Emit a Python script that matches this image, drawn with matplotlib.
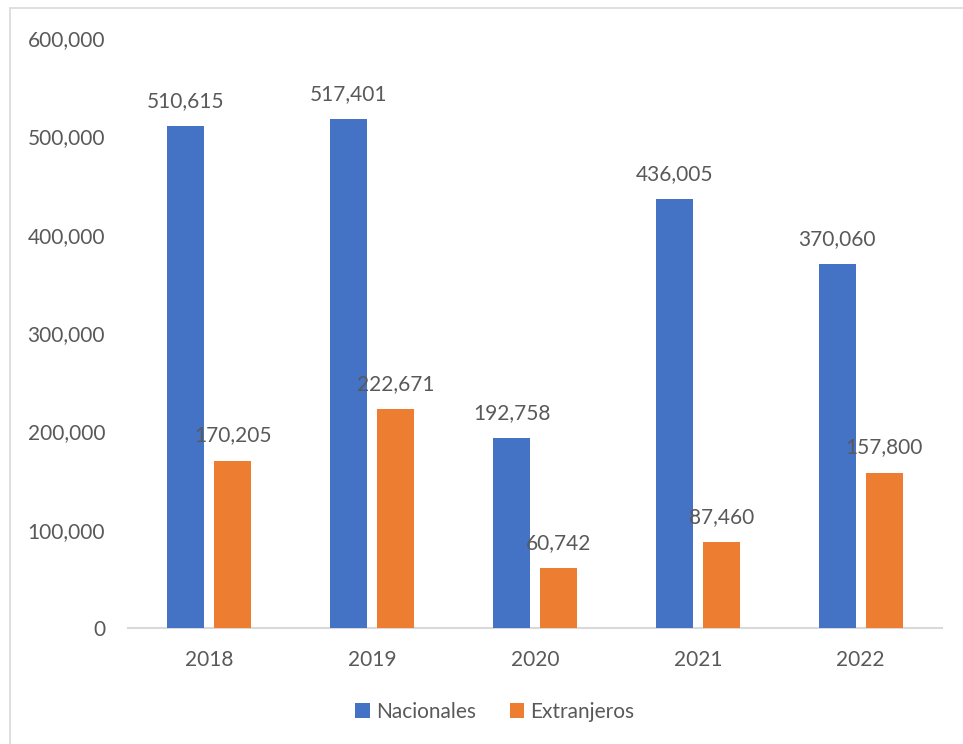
import matplotlib
matplotlib.use("Agg")
import matplotlib.pyplot as plt
import numpy as np
from matplotlib.patches import Rectangle

years = ["2018", "2019", "2020", "2021", "2022"]
nacionales = [510615, 517401, 192758, 436005, 370060]
extranjeros = [170205, 222671, 60742, 87460, 157800]
yticks = [0, 100000, 200000, 300000, 400000, 500000, 600000]

plt.rcParams['font.family'] = ['Lato', 'DejaVu Sans']
txt = '#595959'
blue = '#4472C4'
orange = '#ED7D31'
fs = 15

W, H = 963, 744
fig = plt.figure(figsize=(W / 100, H / 100), dpi=100)
ax = fig.add_axes([128 / W, 1 - 628 / H, (942 - 128) / W, (628 - 38) / H])

x = np.arange(len(years))
bw = 0.227
off = 0.144
b1 = ax.bar(x - off, nacionales, bw, color=blue, label='Nacionales', zorder=3)
b2 = ax.bar(x + off, extranjeros, bw, color=orange, label='Extranjeros', zorder=3)

for bars, vals in ((b1, nacionales), (b2, extranjeros)):
    for r, v in zip(bars, vals):
        ax.annotate(f"{v:,}", (r.get_x() + r.get_width() / 2, v), xytext=(0, 11),
                    textcoords='offset points', ha='center', va='bottom',
                    fontsize=fs, color=txt)

ax.set_xlim(-0.5, len(years) - 0.5)
ax.set_ylim(0, 600000)
ax.set_yticks(yticks)
ax.set_yticklabels([f"{v:,}" for v in yticks])
ax.set_xticks(x)
ax.set_xticklabels(years)
ax.tick_params(axis='both', length=0, labelsize=fs, labelcolor=txt)
ax.tick_params(axis='y', pad=16.5)
ax.tick_params(axis='x', pad=16)
for s in ['top', 'right', 'left']:
    ax.spines[s].set_visible(False)
ax.spines['bottom'].set_color('#D9D9D9')
ax.spines['bottom'].set_linewidth(1.5)

fig.legend(handles=[b1, b2], labels=['Nacionales', 'Extranjeros'], loc='center',
           bbox_to_anchor=(495 / W, 1 - 712 / H), ncol=2, frameon=False,
           handlelength=0.7, handleheight=0.7, handletextpad=0.3,
           columnspacing=1.6, fontsize=fs, labelcolor=txt)

fig.patches.append(Rectangle((10 / W, -0.1), 1.2, 1 - 8 / H + 0.1, transform=fig.transFigure,
                             fill=False, edgecolor='#D9D9D9', linewidth=1.2))

fig.savefig('out.png', dpi=100)
